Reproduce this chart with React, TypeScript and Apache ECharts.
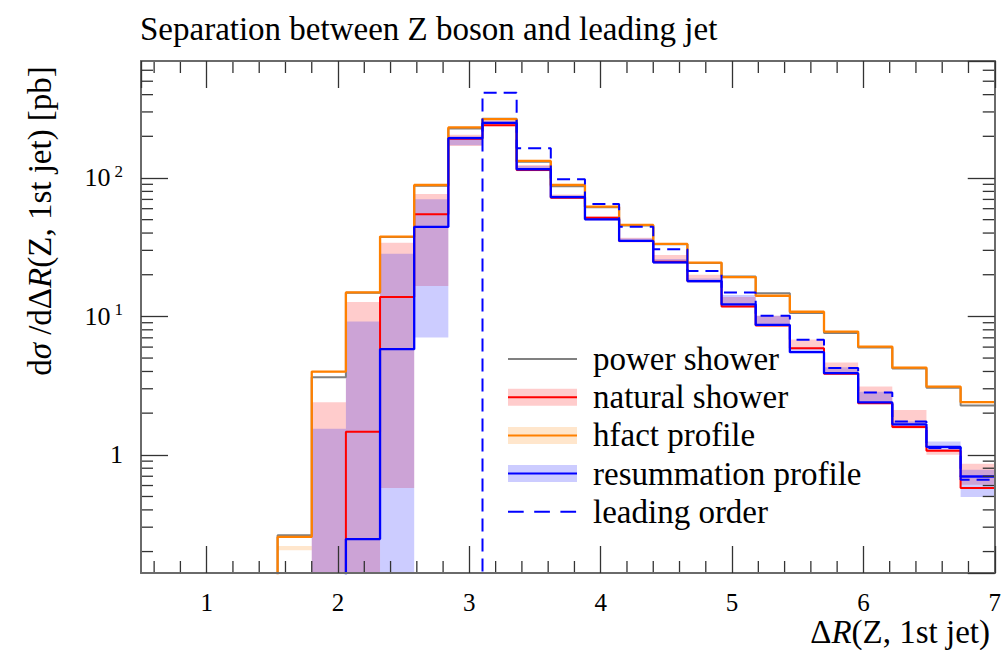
import React, { useEffect, useRef } from "react";
import * as echarts from "echarts";

// ---- data ----
const BIN_EDGES = [0.5, 0.76, 1.02, 1.28, 1.54, 1.8, 2.06, 2.32, 2.58, 2.84, 3.1, 3.36, 3.62, 3.88, 4.14, 4.4, 4.66, 4.92, 5.18, 5.44, 5.7, 5.96, 6.22, 6.48, 6.74, 7.0];

// null = empty bin (zero cross section)
const POWER_SHOWER = [null, null, null, null, 0.262, 3.64, 14.8, 37.4, 88, 228, 268, 131, 87, 61.5, 45.3, 33.2, 24.3, 19.4, 14.7, 10.6, 7.6, 5.95, 4.2, 3.05, 2.27];

const NATURAL_SHOWER = [null, null, null, null, null, null, 1.47, 13.8, 54.7, 192, 240, 114, 72, 51.5, 35, 24.8, 18, 11.8, 8.6, 5.89, 3.85, 2.36, 1.585, 1.07, 0.575];
const NATURAL_LO = [null, null, null, null, null, null, null, 0.575, 16.6, 170, 236, 112, 70.5, 49.5, 34.2, 24, 17.5, 11.6, 8.5, 5.85, 3.8, 2.36, 1.55, 1.0, 0.607];
const NATURAL_HI = [null, null, null, null, null, 2.4, 12.7, 34.1, 76.6, 205, 262, 124, 76, 53, 37, 27.8, 20, 13.8, 10.1, 6.8, 4.64, 3.11, 2.11, 1.1, 0.861];

const HFACT = [null, null, null, null, 0.255, 3.99, 14.9, 37.7, 89, 232, 266, 132.7, 89, 62, 45.8, 33.4, 24.5, 19.2, 14.1, 10.8, 7.77, 6.05, 4.27, 3.11, 2.4];
const HFACT_LO = [null, null, null, null, 0.204, 3.9, 14.6, 37, 87, 228, 262, 130, 87.5, 61, 45, 32.8, 24, 18.9, 13.9, 10.6, 7.65, 5.95, 4.2, 3.06, 2.36];
const HFACT_HI = [null, null, null, null, 0.219, 4.0, 15.0, 37.9, 89.5, 233, 268, 133.5, 89.5, 62.5, 46.2, 33.7, 24.7, 19.4, 14.3, 10.9, 7.85, 6.12, 4.32, 3.15, 2.43];

const RESUMMATION = [null, null, null, null, null, null, 0.246, 5.8, 44.3, 194, 250, 115.6, 72.6, 50.3, 35.1, 24.6, 18.0, 12.2, 8.68, 5.51, 3.89, 2.39, 1.66, 1.14, 0.697];
const RESUMMATION_LO = [null, null, null, null, null, null, null, null, 7.03, 172, 242, 113, 71, 49.5, 34.5, 24, 17.5, 12.0, 8.6, 5.5, 3.85, 2.36, 1.62, 1.08, 0.496];
const RESUMMATION_HI = [null, null, null, null, null, 1.54, 9.18, 28.3, 70.2, 200, 258, 122, 75, 52, 36.5, 26, 18.8, 14.3, 10.1, 5.95, 4.3, 2.85, 1.75, 1.25, 0.78];

const LEADING_ORDER = [null, null, null, null, null, null, null, null, null, null, 413, 164, 97.8, 64.9, 44.5, 30.6, 21.3, 14.9, 10.1, 6.77, 4.23, 2.82, 1.74, 1.12, 0.66];

const LEGEND_LABELS = ["power shower", "natural shower", "hfact profile", "resummation profile", "leading order"];
const TITLE = "Separation between Z boson and leading jet";

const X_MIN = 0.5;
const X_MAX = 7;
const Y_MIN = 0.14;
const Y_MAX = 700;
const X_MINOR_TICKS = [0.6, 0.8, 1.2, 1.4, 1.6, 1.8, 2.2, 2.4, 2.6, 2.8, 3.2, 3.4, 3.6, 3.8, 4.2, 4.4, 4.6, 4.8, 5.2, 5.4, 5.6, 5.8, 6.2, 6.4, 6.6, 6.8];
const Y_MINOR_TICKS = [0.2, 0.3, 0.4, 0.5, 0.6, 0.7, 0.8, 0.9, 2, 3, 4, 5, 6, 7, 8, 9, 20, 30, 40, 50, 60, 70, 80, 90, 200, 300, 400, 500, 600];

const FLOOR = 1e-3; // stands for an empty bin on the log axis

const FONT = '"Liberation Serif", "Times New Roman", serif';
const TICK_COLOR = "#333";
const FRAME_COLOR = "#6a6a6a";

function stepData(values: (number | null)[]) {
  const pts: number[][] = values.map((v, i) => [BIN_EDGES[i], v == null ? FLOOR : v]);
  const last = values[values.length - 1];
  pts.push([BIN_EDGES[BIN_EDGES.length - 1], last == null ? FLOOR : last]);
  return pts;
}

function bandData(lo: (number | null)[], hi: (number | null)[]) {
  const out: number[][] = [];
  for (let i = 0; i < hi.length; i++) {
    if (hi[i] == null) continue;
    out.push([BIN_EDGES[i], BIN_EDGES[i + 1], lo[i] == null ? FLOOR : (lo[i] as number), hi[i] as number]);
  }
  return out;
}

function bandSeries(name: string, lo: (number | null)[], hi: (number | null)[], color: string) {
  return {
    type: "custom",
    name,
    silent: true,
    data: bandData(lo, hi),
    encode: { x: [0, 1], y: [2, 3] },
    renderItem: (params: any, api: any) => {
      const a = api.coord([api.value(0), api.value(3)]);
      const b = api.coord([api.value(1), api.value(2)]);
      const cs = params.coordSys;
      const shape = echarts.graphic.clipRectByRect(
        { x: a[0], y: a[1], width: b[0] - a[0], height: b[1] - a[1] },
        { x: cs.x, y: cs.y, width: cs.width, height: cs.height }
      );
      if (!shape) return null;
      return { type: "rect", shape, style: { fill: color } };
    },
  };
}

function lineSeries(name: string, values: (number | null)[], color: string, width: number, dash?: number[]) {
  return {
    type: "line",
    name,
    step: "end",
    data: stepData(values),
    showSymbol: false,
    symbol: "none",
    clip: true,
    silent: true,
    lineStyle: { color, width, type: dash ? dash : "solid" },
  };
}

function axisCommon() {
  return {
    axisLine: { show: true, onZero: false, lineStyle: { color: FRAME_COLOR, width: 2 } },
    axisTick: { show: true, inside: true, length: 27, lineStyle: { color: TICK_COLOR, width: 1.3 } },
    splitLine: { show: false },
    z: 10,
  };
}

export default function App() {
  const ref = useRef<HTMLDivElement>(null);

  useEffect(() => {
    document.body.style.margin = "0";
    const chart = echarts.init(ref.current as HTMLDivElement, undefined, { renderer: "svg" });

    const legendColors = [
      { line: "#808080", band: null, dash: null },
      { line: "#ff0000", band: "rgba(255,0,0,0.2)", dash: null },
      { line: "#ff8000", band: "rgba(255,128,0,0.2)", dash: null },
      { line: "#0000ff", band: "rgba(0,0,255,0.2)", dash: null },
      { line: "#0000ff", band: null, dash: [15.7, 10.5] },
    ];
    const legendGraphics: any[] = [];
    LEGEND_LABELS.forEach((label, i) => {
      const y = 359 + i * 38.2;
      const c = legendColors[i];
      if (c.band) {
        legendGraphics.push({ type: "rect", shape: { x: 508, y: y - 8.5, width: 69, height: 17 }, style: { fill: c.band }, z: 100 });
      }
      legendGraphics.push({
        type: "line",
        shape: { x1: 508, y1: y, x2: 577, y2: y },
        style: { stroke: c.line, lineWidth: 2, lineDash: c.dash || undefined },
        z: 101,
      });
      legendGraphics.push({
        type: "text",
        x: 593,
        y,
        style: { text: label, fill: "#000", fontSize: 33, fontFamily: FONT, align: "left", verticalAlign: "middle" },
        z: 101,
      });
    });

    const italic = { fontStyle: "italic", fontSize: 33, fontFamily: FONT, fill: "#000" };

    const option: any = {
      animation: false,
      grid: { left: 141, right: 9, top: 61, bottom: 77 },
      xAxis: [
        {
          type: "value",
          min: X_MIN,
          max: X_MAX,
          position: "bottom",
          ...axisCommon(),
          axisLabel: { show: true, margin: 17, fontSize: 25, fontFamily: FONT, color: "#000", showMinLabel: false },
        },
        {
          type: "value",
          min: X_MIN,
          max: X_MAX,
          position: "top",
          ...axisCommon(),
          axisLabel: { show: false },
        },
      ],
      yAxis: [
        {
          type: "log",
          logBase: 10,
          min: Y_MIN,
          max: Y_MAX,
          position: "left",
          ...axisCommon(),
          axisLabel: {
            show: true,
            margin: 18,
            showMinLabel: false,
            showMaxLabel: false,
            fontSize: 26,
            fontFamily: FONT,
            color: "#000",
            formatter: (v: number) => {
              const e = Math.round(Math.log10(v));
              if (e === 0) return "{a|1}";
              return "{a|10}{b|" + e + "}";
            },
            rich: {
              a: { fontSize: 26, fontFamily: FONT, color: "#000", lineHeight: 30 },
              b: { fontSize: 17, fontFamily: FONT, color: "#000", lineHeight: 17, verticalAlign: "top", padding: [0, 0, 0, 4] },
            },
          },
        },
        {
          type: "log",
          logBase: 10,
          min: Y_MIN,
          max: Y_MAX,
          position: "right",
          ...axisCommon(),
          axisLabel: { show: false },
        },
      ],
      graphic: [
        {
          type: "text",
          x: 140,
          y: 29,
          style: { text: TITLE, fill: "#000", fontSize: 33, fontFamily: FONT, align: "left", verticalAlign: "middle" },
        },
        {
          type: "text",
          x: 40,
          y: 221,
          rotation: Math.PI / 2,
          style: {
            text: "d{i|σ} /dΔ{i|R}(Z, 1st jet) [pb]",
            rich: { i: italic },
            fill: "#000",
            fontSize: 33,
            fontFamily: FONT,
            align: "center",
            verticalAlign: "middle",
          },
        },
        {
          type: "text",
          x: 990,
          y: 632,
          style: {
            text: "Δ{i|R}(Z, 1st jet)",
            rich: { i: italic },
            fill: "#000",
            fontSize: 33,
            fontFamily: FONT,
            align: "right",
            verticalAlign: "middle",
          },
        },
        ...legendGraphics,
      ],
      series: [
        lineSeries("power shower", POWER_SHOWER, "#808080", 2),
        bandSeries("natural shower band", NATURAL_LO, NATURAL_HI, "rgba(255,0,0,0.2)"),
        lineSeries("natural shower", NATURAL_SHOWER, "#ff0000", 2),
        bandSeries("hfact profile band", HFACT_LO, HFACT_HI, "rgba(255,128,0,0.2)"),
        lineSeries("hfact profile", HFACT, "#ff8000", 2.3),
        bandSeries("resummation profile band", RESUMMATION_LO, RESUMMATION_HI, "rgba(0,0,255,0.2)"),
        lineSeries("resummation profile", RESUMMATION, "#0000ff", 2.3),
        lineSeries("leading order", LEADING_ORDER, "#0000ff", 2, [13, 7]),
        {
          type: "custom",
          name: "x minor ticks",
          silent: true,
          z: 10,
          data: X_MINOR_TICKS.map((v) => [v, 1]),
          renderItem: (params: any, api: any) => {
            const x = api.coord([api.value(0), 1])[0];
            const cs = params.coordSys;
            const bottom = cs.y + cs.height;
            const top = cs.y;
            const st = { stroke: TICK_COLOR, lineWidth: 1.3 };
            return {
              type: "group",
              children: [
                { type: "line", shape: { x1: x, y1: bottom, x2: x, y2: bottom - 12 }, style: st },
                { type: "line", shape: { x1: x, y1: top, x2: x, y2: top + 12 }, style: st },
              ],
            };
          },
        },
        {
          type: "custom",
          name: "y minor ticks",
          silent: true,
          z: 10,
          data: Y_MINOR_TICKS.map((v) => [1, v]),
          renderItem: (params: any, api: any) => {
            const y = api.coord([1, api.value(1)])[1];
            const cs = params.coordSys;
            const left = cs.x;
            const right = cs.x + cs.width;
            const st = { stroke: TICK_COLOR, lineWidth: 1.3 };
            return {
              type: "group",
              children: [
                { type: "line", shape: { x1: left, y1: y, x2: left + 12, y2: y }, style: st },
                { type: "line", shape: { x1: right, y1: y, x2: right - 12, y2: y }, style: st },
              ],
            };
          },
        },
      ],
    };

    chart.setOption(option);
    return () => {
      chart.dispose();
    };
  }, []);

  return <div ref={ref} style={{ position: "absolute", left: 0, top: 0, width: 1004, height: 650 }} />;
}
